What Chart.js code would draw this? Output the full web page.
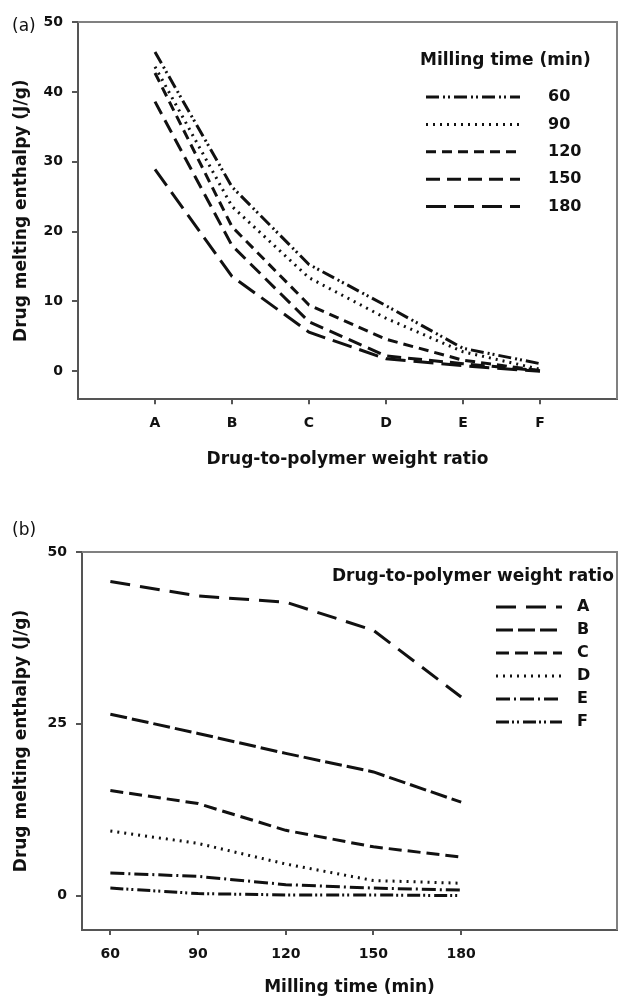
<!DOCTYPE html>
<html>
<head>
<meta charset="utf-8">
<script src="https://cdn.jsdelivr.net/npm/chart.js@4"></script>
<style>
  body { margin: 0; background: #fff; }
  #wrap { position: relative; width: 618px; height: 1000px; }
  canvas { position: absolute; left: 0; }
  #chartA { top: 0; }
  #chartB { top: 480px; }
</style>
</head>
<body>
<div id="wrap">
  <canvas id="chartA" width="618" height="480"></canvas>
  <canvas id="chartB" width="618" height="520"></canvas>
</div>
<script>
// milling times (min) and drug-to-polymer ratio codes
const millingTimes = [60, 90, 120, 150, 180];
const ratioLabels = ['A', 'B', 'C', 'D', 'E', 'F'];

// drug melting enthalpy (J/g) per ratio, one value per milling time
const enthalpyA = [45.7, 43.6, 42.7, 38.6, 28.9];
const enthalpyB = [26.4, 23.6, 20.7, 18.0, 13.6];
const enthalpyC = [15.3, 13.4, 9.5, 7.1, 5.6];
const enthalpyD = [9.4, 7.6, 4.6, 2.2, 1.8];
const enthalpyE = [3.3, 2.8, 1.6, 1.1, 0.8];
const enthalpyF = [1.1, 0.3, 0.1, 0.1, 0.0];

const yTicksA = [0, 10, 20, 30, 40, 50];
const yTicksB = [0, 25, 50];

const table = [enthalpyA, enthalpyB, enthalpyC, enthalpyD, enthalpyE, enthalpyF];

const ink = '#111';
const axisColor = '#555';
const frameColor = '#808080';
const fam = '"DejaVu Sans", Verdana, sans-serif';

// dash patterns, one per series
const timeDash = [
  [13, 4, 2, 3, 2, 4],   // 60
  [2, 5],                // 90
  [10, 6],               // 120
  [14, 7],               // 150
  [20, 8]                // 180
];
const ratioDash = [
  [20, 10],              // A
  [17, 5],               // B
  [13, 6],               // C
  [2, 5],                // D
  [14, 4, 2, 4],         // E
  [13, 3, 2, 3, 2, 4]    // F
];

function line(label, data, dash){
  return {
    label: label,
    data: data,
    borderColor: ink,
    borderWidth: 3,
    borderDash: dash,
    borderCapStyle: 'butt',
    pointRadius: 0,
    tension: 0,
    fill: false
  };
}

// frame on top/right, custom legend, panel tag
const decor = {
  id: 'decor',
  afterDraw(chart, args, o){
    const ctx = chart.ctx;
    const a = chart.chartArea;
    ctx.save();
    ctx.strokeStyle = frameColor;
    ctx.lineWidth = 2;
    ctx.beginPath();
    ctx.moveTo(a.left, a.top);
    ctx.lineTo(a.right, a.top);
    ctx.lineTo(a.right, a.bottom);
    ctx.stroke();

    ctx.fillStyle = ink;
    ctx.textBaseline = 'middle';
    ctx.font = `bold ${o.titleSize}px ${fam}`;
    ctx.fillText(o.title, o.titleX, o.titleY);
    chart.data.datasets.forEach(function(ds, i){
      const y = o.rowY + i * o.rowH;
      ctx.setLineDash(ds.borderDash);
      ctx.lineWidth = ds.borderWidth;
      ctx.strokeStyle = ds.borderColor;
      ctx.beginPath();
      ctx.moveTo(o.lineX, y);
      ctx.lineTo(o.lineX + o.lineW, y);
      ctx.stroke();
      ctx.setLineDash([]);
      ctx.font = `bold ${o.labelSize}px ${fam}`;
      ctx.fillText(ds.label, o.labelX, y);
    });
    ctx.font = `17px ${fam}`;
    ctx.fillText(o.tag, o.tagX, o.tagY);
    ctx.restore();
  }
};

function yScale(min, max, ticks, width){
  return {
    type: 'linear',
    min: min,
    max: max,
    afterBuildTicks: s => { s.ticks = ticks.map(v => ({value: v})); },
    afterFit: s => { s.width = width; },
    grid: { drawOnChartArea: false, drawTicks: true, tickLength: 6, color: axisColor, lineWidth: 2 },
    border: { color: axisColor, width: 2 },
    ticks: { color: ink, padding: 9, font: { family: fam, weight: 'bold', size: 14 } },
    title: {
      display: true,
      text: 'Drug melting enthalpy (J/g)',
      color: ink,
      font: { family: fam, weight: 'bold', size: 17 },
      padding: { top: 11, bottom: 0 }
    }
  };
}

function xScale(min, max, ticks, height, fmt, title, titlePad){
  return {
    type: 'linear',
    min: min,
    max: max,
    afterBuildTicks: s => { s.ticks = ticks.map(v => ({value: v})); },
    afterFit: s => { s.height = height; },
    grid: { drawOnChartArea: false, drawTicks: true, tickLength: 5, color: axisColor, lineWidth: 2 },
    border: { color: axisColor, width: 2 },
    ticks: { color: ink, padding: 11, maxRotation: 0, autoSkip: false, callback: fmt,
             font: { family: fam, weight: 'bold', size: 14 } },
    title: {
      display: true,
      text: title,
      color: ink,
      font: { family: fam, weight: 'bold', size: 17 },
      padding: { top: 0, bottom: titlePad }
    }
  };
}

// (a) enthalpy vs ratio, one line per milling time
const dsA = millingTimes.map((t, j) =>
  line(String(t), ratioLabels.map((r, i) => ({x: i + 1, y: table[i][j]})), timeDash[j]));

new Chart(document.getElementById('chartA'), {
  type: 'line',
  data: { datasets: dsA },
  options: {
    responsive: false,
    animation: false,
    devicePixelRatio: 1,
    layout: { padding: { top: 22, right: 1, bottom: 0, left: 0 } },
    scales: {
      x: xScale(0, 7, [1, 2, 3, 4, 5, 6], 80.7, v => ratioLabels[v - 1], 'Drug-to-polymer weight ratio', 10),
      y: yScale(-4, 50, yTicksA, 78)
    },
    plugins: {
      legend: { display: false },
      tooltip: { enabled: false },
      decor: {
        title: 'Milling time (min)', titleSize: 17, titleX: 420, titleY: 61,
        lineX: 426, lineW: 94, labelX: 548, labelSize: 16, rowY: 97, rowH: 27.4,
        tag: '(a)', tagX: 12, tagY: 27
      }
    }
  },
  plugins: [decor]
});

// (b) enthalpy vs milling time, one line per ratio
const dsB = ratioLabels.map((r, i) =>
  line(r, millingTimes.map((t, j) => ({x: t, y: table[i][j]})), ratioDash[i]));

new Chart(document.getElementById('chartB'), {
  type: 'line',
  data: { datasets: dsB },
  options: {
    responsive: false,
    animation: false,
    devicePixelRatio: 1,
    layout: { padding: { top: 72, right: 1, bottom: 0, left: 0 } },
    scales: {
      x: xScale(50.3, 233.3, millingTimes, 70, v => String(v), 'Milling time (min)', 2),
      y: yScale(-5, 50, yTicksB, 82)
    },
    plugins: {
      legend: { display: false },
      tooltip: { enabled: false },
      decor: {
        title: 'Drug-to-polymer weight ratio', titleSize: 17, titleX: 332, titleY: 97,
        lineX: 496, lineW: 66, labelX: 577, labelSize: 16, rowY: 127, rowH: 23,
        tag: '(b)', tagX: 12, tagY: 51
      }
    }
  },
  plugins: [decor]
});
</script>
</body>
</html>
